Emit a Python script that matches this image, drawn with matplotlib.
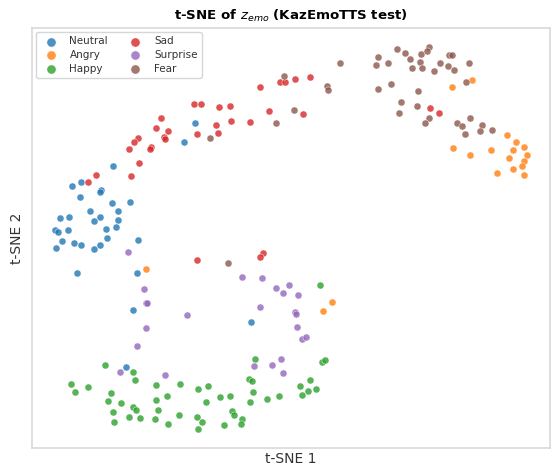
import matplotlib
matplotlib.use('Agg')
import matplotlib.pyplot as plt
import numpy as np

# 2-D t-SNE embedding of z_emo, per emotion (y grows downward)
neutral_x = [195, 184, 113, 81, 72, 101, 100, 80, 112, 130, 90, 118, 60, 69, 100, 94, 118,
             55, 58, 68, 106, 116, 62, 74, 81, 107, 138, 56, 94, 100, 77, 137, 133, 251, 126]
neutral_y = [123, 142, 166, 182, 186, 190, 192, 197, 203, 202, 211, 211, 218, 217, 217, 221, 220,
             230, 232, 230, 229, 227, 241, 243, 245, 238, 240, 248, 249, 245, 273, 273, 310, 322, 367]

angry_x = [452, 472, 507, 516, 524, 513, 527, 509, 524, 522, 513, 524, 497, 453, 470, 491,
           146, 332, 323]
angry_y = [87, 80, 135, 142, 147, 150, 155, 158, 161, 166, 169, 175, 173, 148, 155, 150,
           269, 302, 311]

happy_x = [320, 255, 322, 325, 105, 133, 135, 71, 75, 88, 111, 108, 121, 113, 114, 133, 136,
           129, 140, 156, 156, 167, 158, 155, 168, 180, 179, 198, 208, 206, 197, 202, 198,
           220, 230, 232, 234, 224, 242, 241, 249, 252, 253, 250, 267, 279, 300, 310, 302,
           308, 316]
happy_y = [285, 359, 362, 360, 365, 372, 380, 384, 392, 387, 393, 401, 403, 412, 422, 407, 410,
           417, 418, 385, 400, 396, 410, 419, 424, 384, 415, 389, 386, 402, 417, 422, 429,
           397, 396, 411, 415, 425, 419, 424, 379, 381, 392, 402, 399, 396, 386, 380, 395,
           391, 389]

sad_x = [280, 285, 260, 194, 201, 219, 230, 269, 161, 231, 250, 216, 156, 168, 197, 218, 138,
         134, 164, 165, 129, 151, 150, 139, 96, 88, 131, 295, 310, 303, 430, 439, 197, 263, 260]
sad_y = [82, 82, 87, 104, 104, 107, 106, 111, 118, 121, 122, 125, 128, 131, 134, 133, 138,
         142, 137, 139, 149, 147, 149, 163, 175, 182, 176, 79, 77, 114, 108, 113, 260, 253, 257]

surprise_x = [128, 144, 146, 242, 262, 276, 283, 289, 298, 147, 187, 260, 295, 296, 297, 302,
              306, 146, 137, 281, 254, 272, 120, 165, 283]
surprise_y = [252, 289, 303, 277, 278, 288, 293, 285, 295, 303, 315, 307, 312, 314, 327, 339,
              337, 328, 346, 359, 366, 365, 372, 375, 373]

fear_x = [284, 276, 210, 340, 327, 328, 294, 397, 378, 376, 388, 405, 410, 421, 429, 427, 420,
          412, 422, 434, 440, 449, 452, 448, 454, 469, 378, 391, 418, 466, 401, 399, 417, 429,
          425, 457, 462, 470, 465, 482, 480, 492, 228]
fear_y = [76, 123, 138, 63, 86, 90, 110, 49, 57, 65, 63, 53, 59, 54, 47, 51, 62,
          68, 68, 71, 63, 55, 55, 66, 70, 63, 89, 84, 91, 82, 102, 113, 106, 118,
          123, 123, 126, 118, 134, 125, 131, 130, 263]

emotions = ["Neutral", "Angry", "Happy", "Sad", "Surprise", "Fear"]
xs = [neutral_x, angry_x, happy_x, sad_x, surprise_x, fear_x]
ys = [neutral_y, angry_y, happy_y, sad_y, surprise_y, fear_y]
colors = ["tab:blue", "tab:orange", "tab:green", "tab:red", "tab:purple", "tab:brown"]

fig = plt.figure(figsize=(5.51, 4.66), dpi=100)
ax = fig.add_axes([0.058, 0.039, 0.94, 0.901])

for name, x, y, c in zip(emotions, xs, ys, colors):
  ax.scatter(x, y, s=26, color=c, alpha=0.8, edgecolors="white", linewidths=0.4, label=name)

ax.set_xlim(32, 550)
ax.set_ylim(448, 28)
ax.set_xticks([])
ax.set_yticks([])
for sp in ax.spines.values():
  sp.set_color("#d9d9d9")
  sp.set_linewidth(1.2)

ax.set_xlabel("t-SNE 1", fontsize=10, color="#333333", labelpad=3)
ax.set_ylabel("t-SNE 2", fontsize=10, color="#333333", labelpad=6)
ax.set_title(r"t-SNE of $z_{emo}$ (KazEmoTTS test)", fontsize=9.6, fontweight="bold", pad=6)
ax.legend(loc="upper left", ncol=2, fontsize=7.5, markerscale=1.3, frameon=True,
          borderaxespad=0.4, handletextpad=0.8, columnspacing=1.6, labelspacing=0.35,
          labelcolor="#333333")

fig.savefig("out.png", dpi=100)
